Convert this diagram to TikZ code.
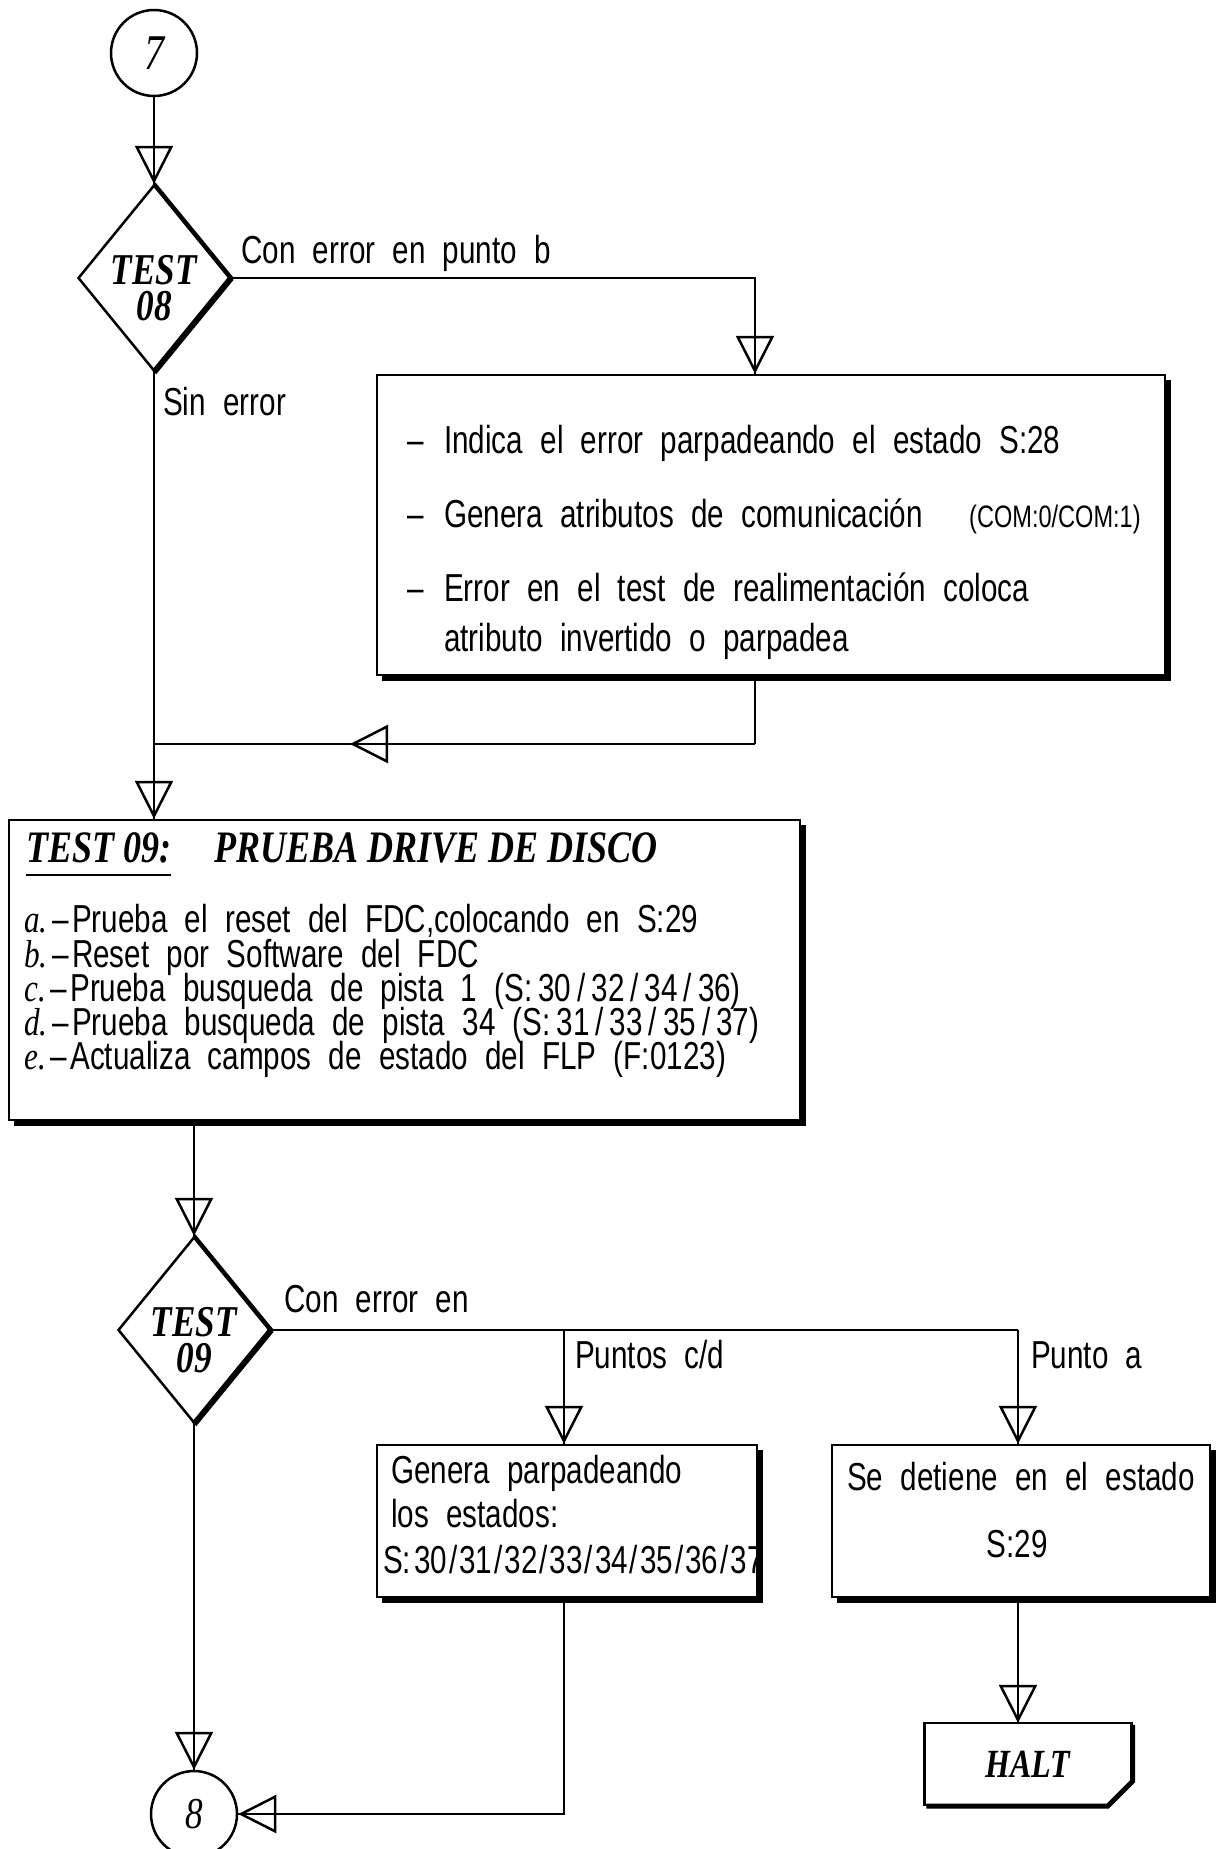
\documentclass[tikz,border=0pt]{standalone}
\usepackage{fontspec}
\setmainfont{Liberation Sans}[FakeStretch=0.76,WordSpace=2.1]
\newfontfamily\serfont{Liberation Serif}[FakeStretch=0.8]
\usetikzlibrary{arrows.meta,decorations.markings,shapes.geometric,calc}
\newcommand\dashitem{\makebox[37pt][l]{–}}
\newcommand\lt[1]{{\serfont\itshape #1}}
\newcommand\wsl{\kern6pt/\kern6pt}
\newcommand\nsl{\kern2pt/\kern2pt}
\begin{document}
\begin{tikzpicture}[x=1pt,y=-1pt,
  ln/.style={line width=2.5pt},
  flow/.style={line width=2.5pt, postaction={decorate}, decoration={markings, mark=at position #1 with {\arrow{Triangle[open,length=38pt,width=38pt,line width=2.5pt]}}}},
  flow/.default=1,
  box/.style={draw, line width=2.5pt, rectangle, inner sep=0pt},
  shd/.style={line width=5.5pt},
  dia/.style={draw, diamond, line width=2.5pt, inner sep=0pt, minimum width=152pt, minimum height=186pt},
  conn/.style={draw, circle, line width=2.5pt, inner sep=0pt, minimum size=86pt, font=\serfont\itshape\fontsize{50}{50}\selectfont},
  txt/.style={anchor=base west, inner sep=0pt, font=\fontsize{39}{39}\selectfont},
  tight/.style={text height=26pt, text depth=7pt},
  lbl/.style={txt},
  ttl/.style={anchor=base west, inner sep=0pt, font=\serfont\bfseries\itshape\fontsize{45}{45}\selectfont},
  dtxt/.style={anchor=base, inner sep=0pt, text height=30pt, text depth=1pt, font=\serfont\bfseries\itshape\fontsize{44}{44}\selectfont},
]
\fill[white] (0,0) rectangle (1217,1849);
\useasboundingbox (0,0) rectangle (1217,1849);

% ---- top part
\node[conn] (c7) at (154,53) {7};
\node[dia] (d8) at (154,278) {};
\node[dtxt] (d8t) at (154,284) {TEST};
\node[dtxt] (d8u) at (154,320) {08};
\draw[line width=4pt] (d8.north) -- (d8.east);
\draw[line width=6pt] (d8.east) -- (d8.south);
\draw[flow] (c7.south) -- (d8.north);

\node[lbl] (l1) at (241,263) {Con error en punto b};
\node[lbl] (l2) at (163,415) {Sin error};

\coordinate (br1) at (755,278);
\node[box, minimum width=788pt, minimum height=300pt] (b1) at (771,525) {};
\draw[flow] (d8.east) -- (br1) -- (br1 |- b1.north);

\node[txt] (t11) at (407,453) {\dashitem Indica el error parpadeando el estado S:28};
\node[txt] (t12) at (407,527) {\dashitem Genera atributos de comunicación};
\node[txt, font=\fontsize{31}{31}\selectfont] (t12b) at (969,527) {(COM:0/COM:1)};
\node[txt] (t13) at (407,601) {\dashitem Error en el test de realimentación coloca};
\node[txt] (t14) at (444,651) {atributo invertido o parpadea};

\coordinate (jr) at (154,744);
\draw[ln] (br1 |- b1.south) -- (br1 |- jr);
\draw[flow=405pt] (br1 |- jr) -- (jr);

% ---- TEST 09 box
\node[box, minimum width=791pt, minimum height=300pt] (b2) at (404.5,970) {};
\draw[flow] (d8.south) -- (d8.south |- b2.north);
\node[ttl] (t20) at (26,862) {TEST 09:};
\draw[ln] ($(t20.base west)+(0,13)$) -- ($(t20.base east)+(0,13)$);
\node[ttl] (t21) at (214,862) {PRUEBA DRIVE DE DISCO};
\node[txt, tight] (t2a) at (24,932) {\lt{a.}\kern5pt–\kern3pt Prueba el reset del FDC,colocando en S:29};
\node[txt, tight] (t2b) at (24,967) {\lt{b.}\kern5pt–\kern3pt Reset por Software del FDC};
\node[txt, tight] (t2c) at (24,1001) {\lt{c.}\kern5pt–\kern3pt Prueba busqueda de pista 1 (S:\kern6pt 30\wsl 32\wsl 34\wsl 36)};
\node[txt, tight] (t2d) at (24,1035) {\lt{d.}\kern5pt–\kern3pt Prueba busqueda de pista 34 (S:\kern6pt 31\wsl 33\wsl 35\wsl 37)};
\node[txt, tight] (t2e) at (24,1069) {\lt{e.}\kern5pt–\kern3pt Actualiza campos de estado del FLP (F:0123)};

% ---- TEST 09 decision
\node[dia] (d9) at (194,1330) {};
\node[dtxt] (d9t) at (194,1336) {TEST};
\node[dtxt] (d9u) at (194,1372) {09};
\draw[line width=4pt] (d9.north) -- (d9.east);
\draw[line width=6pt] (d9.east) -- (d9.south);
\draw[flow] (d9.north |- b2.south) -- (d9.north);

\node[lbl] (l3) at (284,1312) {Con error en};
\node[lbl] (l4) at (575,1368) {Puntos c/d};
\node[lbl] (l5) at (1031,1368) {Punto a};

\coordinate (br3) at (564,1330);
\coordinate (br4) at (1018,1330);
\node[box, minimum width=380pt, minimum height=152pt] (b3) at (567,1521) {};
\node[box, minimum width=378pt, minimum height=152pt] (b4) at (1021,1521) {};
\draw[ln] (d9.east) -- (br4);
\draw[flow] (br3) -- (br3 |- b3.north);
\draw[flow] (br4) -- (br4 |- b4.north);

\node[txt] (t31) at (391,1483) {Genera parpadeando};
\node[txt] (t32) at (391,1527) {los estados:};
\node[txt] (t33) at (383,1573) {S:\kern3pt 30\nsl 31\nsl 32\nsl 33\nsl 34\nsl 35\nsl 36\nsl 37};
\node[txt] (t41) at (847,1490) {Se detiene en el estado};
\node[txt, anchor=base] (t42) at (1017,1557) {S:29};

% ---- HALT
\node[inner sep=0pt, minimum width=207pt, minimum height=82pt, font=\serfont\bfseries\itshape\fontsize{40}{40}\selectfont] (halt) at (1028,1764) {HALT};
\draw[ln] ($(halt.south east)+(-24,0)$) -- (halt.south west) -- (halt.north west) -- (halt.north east) -- ($(halt.south east)+(0,-24)$);
\draw[line width=5pt] ($(halt.north east)+(1,2)$) -- ($(halt.south east)+(1,-24)$) -- ($(halt.south east)+(-24,1)$) -- ($(halt.south west)+(2,1)$);
\draw[flow] (br4 |- b4.south) -- (br4 |- halt.north);

% ---- connector 8
\node[conn, font=\serfont\itshape\fontsize{44}{44}\selectfont] (c8) at (194,1814) {8};
\coordinate (jb) at (564,1814);
\draw[flow] (br3 |- b3.south) -- (jb) -- (c8.east);
\draw[flow] (d9.south) -- (c8.north);

% ---- shadows
\foreach \b in {b1,b2,b3,b4}
  \draw[shd] ($(\b.south west)+(6,2)$) -- ($(\b.south east)+(2,2)$) -- ($(\b.north east)+(2,6)$);
\end{tikzpicture}
\end{document}
